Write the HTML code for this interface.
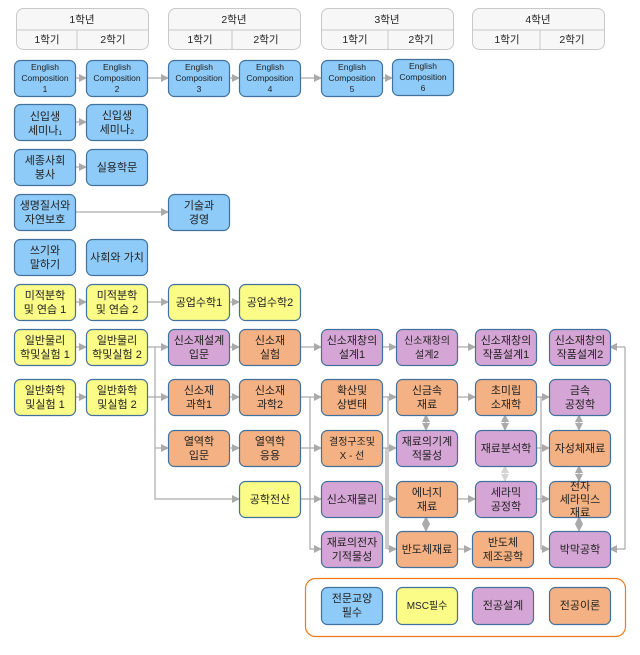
<!DOCTYPE html>
<html><head><meta charset="utf-8"><style>
html,body{margin:0;padding:0;background:#fff}
svg{display:block}
text{font-family:"Liberation Sans","Noto Sans CJK KR",sans-serif;fill:#222}
</style></head><body>
<svg width="640" height="655" viewBox="0 0 640 655" xmlns="http://www.w3.org/2000/svg">
<defs>
<marker id="a" markerWidth="8" markerHeight="8" refX="7" refY="4" orient="auto" markerUnits="userSpaceOnUse"><path d="M0,0 L8,4 L0,8 z" fill="#aaa"/></marker>
<marker id="s" markerWidth="8" markerHeight="8" refX="1" refY="4" orient="auto" markerUnits="userSpaceOnUse"><path d="M8,0 L0,4 L8,8 z" fill="#aaa"/></marker>
</defs>
<!-- headers -->
<g fill="#f7f7f7" stroke="#c8c8c8" stroke-width="1">
<rect x="16.5" y="8.5" width="132" height="41" rx="7"/><line x1="16.5" y1="30" x2="148.5" y2="30"/><line x1="77" y1="30" x2="77" y2="49"/>
<rect x="168.5" y="8.5" width="132" height="41" rx="7"/><line x1="168.5" y1="30" x2="300.5" y2="30"/><line x1="232" y1="30" x2="232" y2="49"/>
<rect x="321.5" y="8.5" width="132" height="41" rx="7"/><line x1="321.5" y1="30" x2="453.5" y2="30"/><line x1="388" y1="30" x2="388" y2="49"/>
<rect x="472.5" y="8.5" width="132" height="41" rx="7"/><line x1="472.5" y1="30" x2="604.5" y2="30"/><line x1="540" y1="30" x2="540" y2="49"/>
</g>
<g font-size="10.5" text-anchor="middle">
<text x="82" y="23">1학년</text><text x="47" y="43">1학기</text><text x="113" y="43">2학기</text>
<text x="234" y="23">2학년</text><text x="200" y="43">1학기</text><text x="266" y="43">2학기</text>
<text x="387" y="23">3학년</text><text x="355" y="43">1학기</text><text x="421" y="43">2학기</text>
<text x="538" y="23">4학년</text><text x="507" y="43">1학기</text><text x="572" y="43">2학기</text>
</g>
<!-- connectors -->
<g stroke="#aaa" stroke-width="1.2" fill="none">
<line x1="75" y1="78" x2="86" y2="78" marker-end="url(#a)"/>
<line x1="147" y1="78" x2="168" y2="78" marker-end="url(#a)"/>
<line x1="229" y1="78" x2="239" y2="78" marker-end="url(#a)"/>
<line x1="300" y1="78" x2="321" y2="78" marker-end="url(#a)"/>
<line x1="382" y1="78" x2="392" y2="78" marker-end="url(#a)"/>
<line x1="75" y1="122" x2="86" y2="122" marker-end="url(#a)"/>
<line x1="75" y1="167" x2="86" y2="167" marker-end="url(#a)"/>
<line x1="75" y1="212" x2="168" y2="212" marker-end="url(#a)"/>
<line x1="75" y1="302" x2="86" y2="302" marker-end="url(#a)"/>
<line x1="147" y1="302" x2="168" y2="302" marker-end="url(#a)"/>
<line x1="229" y1="302" x2="239" y2="302" marker-end="url(#a)"/>
<line x1="75" y1="347" x2="86" y2="347" marker-end="url(#a)"/>
<line x1="75" y1="397" x2="86" y2="397" marker-end="url(#a)"/>
<polyline points="147,347 155,347 155,499 239,499" marker-end="url(#a)"/>
<line x1="155" y1="347" x2="168" y2="347" marker-end="url(#a)"/>
<line x1="147" y1="397" x2="168" y2="397" marker-end="url(#a)"/>
<line x1="155" y1="448" x2="168" y2="448" marker-end="url(#a)"/>
<line x1="229" y1="347" x2="239" y2="347" marker-end="url(#a)"/>
<line x1="229" y1="397" x2="239" y2="397" marker-end="url(#a)"/>
<line x1="229" y1="448" x2="239" y2="448" marker-end="url(#a)"/>
<line x1="300" y1="347" x2="321" y2="347" marker-end="url(#a)"/>
<polyline points="300,397 310,397 310,549 321,549" marker-end="url(#a)"/>
<line x1="310" y1="397" x2="321" y2="397" marker-end="url(#a)"/>
<line x1="300" y1="448" x2="321" y2="448" marker-end="url(#a)"/>
<line x1="300" y1="499" x2="321" y2="499" marker-end="url(#a)"/>
<line x1="382" y1="347" x2="396" y2="347" marker-end="url(#a)"/>
<line x1="457" y1="347" x2="475" y2="347" marker-end="url(#a)"/>
<polyline points="382,397 388,397 388,549 396,549" marker-end="url(#a)"/>
<line x1="388" y1="397" x2="396" y2="397" marker-end="url(#a)"/>
<line x1="382" y1="448" x2="396" y2="448" marker-end="url(#a)"/>
<line x1="382" y1="499" x2="396" y2="499" marker-end="url(#a)"/>
<line x1="386" y1="448" x2="386" y2="549"/>
<line x1="457" y1="397" x2="475" y2="397" marker-end="url(#a)"/>
<line x1="457" y1="499" x2="475" y2="499" marker-end="url(#a)"/>
<line x1="457" y1="549" x2="471" y2="549" marker-end="url(#a)"/>
<polyline points="536,397 541,397 541,549 549,549" marker-end="url(#a)"/>
<line x1="541" y1="397" x2="549" y2="397" marker-end="url(#a)"/>
<line x1="536" y1="448" x2="549" y2="448" marker-end="url(#a)"/>
<line x1="536" y1="499" x2="549" y2="499" marker-end="url(#a)"/>
<polyline points="625,347 625,549 610,549" marker-end="url(#a)"/>
<line x1="625" y1="347" x2="610" y2="347" marker-end="url(#a)"/>
<line x1="426" y1="415" x2="426" y2="430" marker-start="url(#s)" marker-end="url(#a)"/>
<line x1="426" y1="517" x2="426" y2="531" marker-start="url(#s)" marker-end="url(#a)"/>
<line x1="505" y1="415" x2="505" y2="430" marker-start="url(#s)" marker-end="url(#a)"/>
<line x1="505" y1="466" x2="505" y2="481" marker-start="url(#s)" marker-end="url(#a)" opacity="0.5"/>
<line x1="579" y1="415" x2="579" y2="430" marker-start="url(#s)" marker-end="url(#a)"/>
<line x1="579" y1="466" x2="579" y2="481" marker-start="url(#s)" marker-end="url(#a)"/>
<line x1="579" y1="517" x2="579" y2="531" marker-start="url(#s)" marker-end="url(#a)"/>
</g>
<!-- nodes -->
<g stroke="#41719c" stroke-width="1.2">
<g fill="#8ecbf8">
<rect x="14.5" y="60.5" width="61" height="36" rx="6"/><rect x="86.5" y="60.5" width="61" height="36" rx="6"/>
<rect x="168.5" y="60.5" width="61" height="36" rx="6"/><rect x="239.5" y="60.5" width="61" height="36" rx="6"/>
<rect x="321.5" y="60.5" width="61" height="36" rx="6"/><rect x="392.5" y="59.5" width="61" height="36" rx="6"/>
<rect x="14.5" y="104.5" width="61" height="36" rx="6"/><rect x="86.5" y="104.5" width="61" height="36" rx="6"/>
<rect x="14.5" y="149.5" width="61" height="36" rx="6"/><rect x="86.5" y="149.5" width="61" height="36" rx="6"/>
<rect x="14.5" y="194.5" width="61" height="36" rx="6"/><rect x="168.5" y="194.5" width="61" height="36" rx="6"/>
<rect x="14.5" y="239.5" width="61" height="36" rx="6"/><rect x="86.5" y="239.5" width="61" height="36" rx="6"/>
<rect x="321.5" y="587.5" width="61" height="37" rx="6"/>
</g>
<g fill="#fbfb88">
<rect x="14.5" y="284.5" width="61" height="36" rx="6"/><rect x="86.5" y="284.5" width="61" height="36" rx="6"/>
<rect x="168.5" y="284.5" width="61" height="36" rx="6"/><rect x="239.5" y="284.5" width="61" height="36" rx="6"/>
<rect x="14.5" y="329.5" width="61" height="36" rx="6"/><rect x="86.5" y="329.5" width="61" height="36" rx="6"/>
<rect x="14.5" y="379.5" width="61" height="36" rx="6"/><rect x="86.5" y="379.5" width="61" height="36" rx="6"/>
<rect x="239.5" y="481.5" width="61" height="36" rx="6"/>
<rect x="396.5" y="587.5" width="61" height="37" rx="6"/>
</g>
<g fill="#d5a6d5">
<rect x="168.5" y="329.5" width="61" height="36" rx="6"/>
<rect x="321.5" y="329.5" width="61" height="36" rx="6"/><rect x="396.5" y="329.5" width="61" height="36" rx="6"/>
<rect x="475.5" y="329.5" width="61" height="36" rx="6"/><rect x="549.5" y="329.5" width="61" height="36" rx="6"/>
<rect x="549.5" y="379.5" width="61" height="36" rx="6"/>
<rect x="396.5" y="430.5" width="61" height="36" rx="6"/><rect x="475.5" y="430.5" width="61" height="36" rx="6"/>
<rect x="321.5" y="481.5" width="61" height="36" rx="6"/><rect x="475.5" y="481.5" width="61" height="36" rx="6"/>
<rect x="321.5" y="531.5" width="61" height="36" rx="6"/><rect x="549.5" y="531.5" width="61" height="36" rx="6"/>
<rect x="472.5" y="587.5" width="61" height="37" rx="6"/>
</g>
<g fill="#f4b183">
<rect x="239.5" y="329.5" width="61" height="36" rx="6"/>
<rect x="168.5" y="379.5" width="61" height="36" rx="6"/><rect x="239.5" y="379.5" width="61" height="36" rx="6"/>
<rect x="321.5" y="379.5" width="61" height="36" rx="6"/><rect x="396.5" y="379.5" width="61" height="36" rx="6"/>
<rect x="475.5" y="379.5" width="61" height="36" rx="6"/>
<rect x="168.5" y="430.5" width="61" height="36" rx="6"/><rect x="239.5" y="430.5" width="61" height="36" rx="6"/>
<rect x="321.5" y="430.5" width="61" height="36" rx="6"/><rect x="549.5" y="430.5" width="61" height="36" rx="6"/>
<rect x="396.5" y="481.5" width="61" height="36" rx="6"/><rect x="549.5" y="481.5" width="61" height="36" rx="6"/>
<rect x="396.5" y="531.5" width="61" height="36" rx="6"/><rect x="472.5" y="531.5" width="61" height="36" rx="6"/>
<rect x="549.5" y="587.5" width="61" height="37" rx="6"/>
</g>
</g>
<rect x="305.5" y="578.5" width="320" height="58" rx="10" fill="none" stroke="#f07a1a" stroke-width="1.2"/>
<!-- labels -->
<g font-size="8.5" text-anchor="middle">
<text x="45" y="70">English</text><text x="45" y="81">Composition</text><text x="45" y="92">1</text>
<text x="117" y="70">English</text><text x="117" y="81">Composition</text><text x="117" y="92">2</text>
<text x="199" y="70">English</text><text x="199" y="81">Composition</text><text x="199" y="92">3</text>
<text x="270" y="70">English</text><text x="270" y="81">Composition</text><text x="270" y="92">4</text>
<text x="352" y="70">English</text><text x="352" y="81">Composition</text><text x="352" y="92">5</text>
<text x="423" y="69">English</text><text x="423" y="80">Composition</text><text x="423" y="91">6</text>
</g>
<g font-size="11" text-anchor="middle">
<text x="45" y="120">신입생</text><text x="45" y="134">세미나₁</text>
<text x="117" y="119">신입생</text><text x="117" y="133">세미나₂</text>
<text x="45" y="164">세종사회</text><text x="45" y="178">봉사</text>
<text x="117" y="171">실용학문</text>
<text x="45" y="209">생명질서와</text><text x="45" y="223">자연보호</text>
<text x="199" y="209">기술과</text><text x="199" y="223">경영</text>
<text x="45" y="254">쓰기와</text><text x="45" y="268">말하기</text>
<text x="117" y="261">사회와 가치</text>
<text x="45" y="299">미적분학</text><text x="45" y="313">및 연습 1</text>
<text x="117" y="299">미적분학</text><text x="117" y="313">및 연습 2</text>
<text x="199" y="306">공업수학1</text><text x="270" y="306">공업수학2</text>
<text x="45" y="344">일반물리</text><text x="45" y="358">학및실험 1</text>
<text x="117" y="344">일반물리</text><text x="117" y="358">학및실험 2</text>
<text x="199" y="344">신소재설계</text><text x="199" y="358">입문</text>
<text x="270" y="344">신소재</text><text x="270" y="358">실험</text>
<text x="352" y="344">신소재창의</text><text x="352" y="358">설계1</text>
<text x="427" y="344" font-size="10">신소재창의</text><text x="427" y="358" font-size="10">설계2</text>
<text x="506" y="344">신소재창의</text><text x="506" y="358">작품설계1</text>
<text x="580" y="344">신소재창의</text><text x="580" y="358">작품설계2</text>
<text x="45" y="394">일반화학</text><text x="45" y="408">및실험 1</text>
<text x="117" y="394">일반화학</text><text x="117" y="408">및실험 2</text>
<text x="199" y="394">신소재</text><text x="199" y="408">과학1</text>
<text x="270" y="394">신소재</text><text x="270" y="408">과학2</text>
<text x="352" y="394">확산및</text><text x="352" y="408">상변태</text>
<text x="427" y="394">신금속</text><text x="427" y="408">재료</text>
<text x="506" y="394">초미립</text><text x="506" y="408">소재학</text>
<text x="580" y="394">금속</text><text x="580" y="408">공정학</text>
<text x="199" y="445">열역학</text><text x="199" y="459">입문</text>
<text x="270" y="445">열역학</text><text x="270" y="459">응용</text>
<text x="352" y="445" font-size="10">결정구조및</text><text x="352" y="459" font-size="10">X - 선</text>
<text x="427" y="445">재료의기계</text><text x="427" y="459">적물성</text>
<text x="506" y="452">재료분석학</text>
<text x="580" y="452">자성체재료</text>
<text x="270" y="503">공학전산</text>
<text x="352" y="503">신소재물리</text>
<text x="427" y="496">에너지</text><text x="427" y="510">재료</text>
<text x="506" y="496">세라믹</text><text x="506" y="510">공정학</text>
<text x="580" y="490">전자</text><text x="580" y="503">세라믹스</text><text x="580" y="516">재료</text>
<text x="352" y="546">재료의전자</text><text x="352" y="560">기적물성</text>
<text x="427" y="553">반도체재료</text>
<text x="503" y="546">반도체</text><text x="503" y="560">제조공학</text>
<text x="580" y="553">박막공학</text>
<text x="352" y="602">전문교양</text><text x="352" y="616">필수</text>
<text x="427" y="609" font-size="10">MSC필수</text>
<text x="503" y="609">전공설계</text>
<text x="580" y="609">전공이론</text>
</g>
</svg>
</body></html>
